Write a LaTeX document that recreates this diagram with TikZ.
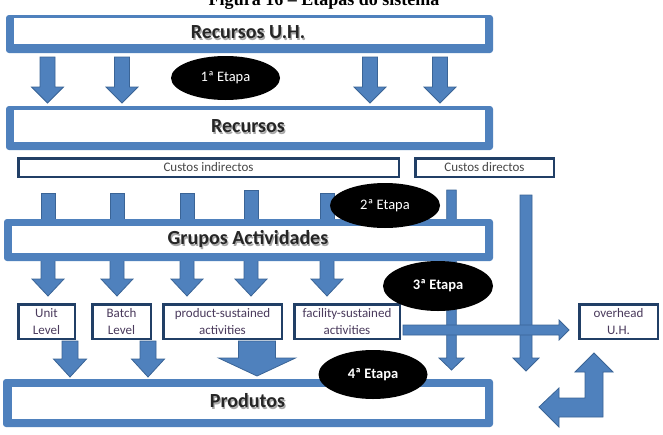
\documentclass[tikz,border=0pt]{standalone}
\usepackage{fontspec}
\setmainfont{Carlito}
\newfontfamily\titlefont{Liberation Serif}
\usetikzlibrary{shapes.geometric}
\definecolor{blk}{HTML}{4F81BD}
\definecolor{blkline}{HTML}{3A6496}
\definecolor{navy}{HTML}{213F66}
\definecolor{lbl}{HTML}{4A3A5C}
\definecolor{bigtxt}{HTML}{262626}
\definecolor{shadowtxt}{HTML}{A8A8A8}
% down block arrow: x, ytop, ytip, half shaft, half head, head length
\newcommand\dnarrow[6]{\filldraw[blockarrow] (#1-#4,#2) -- (#1+#4,#2) -- (#1+#4,#3-#6) -- (#1+#5,#3-#6) -- (#1,#3) -- (#1-#5,#3-#6) -- (#1-#4,#3-#6) -- cycle;}
% stub: x, ytop, ybottom, half width
\newcommand\stubbar[4]{\filldraw[blockarrow] (#1-#4,#2) rectangle (#1+#4,#3);}
\begin{document}
\begin{tikzpicture}[x=1pt,y=-1pt,
  blockarrow/.style={fill=blk, draw=blkline, line width=0.8pt, line join=miter},
  bigouter/.style={fill=blk, rounded corners=3pt},
  biginner/.style={fill=white},
  bigtext/.style={font=\bfseries\fontsize{20}{24}\selectfont, text=bigtxt, inner sep=0pt},
  bigshadow/.style={font=\bfseries\fontsize{20}{24}\selectfont, text=shadowtxt, inner sep=0pt},
  smallbox/.style={draw=navy, line width=2.5pt, fill=white, inner sep=0pt, align=center,
     font=\fontsize{13}{17}\selectfont, text=lbl},
  costbox/.style={smallbox, text=bigtxt!85},
  etapa/.style={ellipse, fill=black, text=white, inner sep=0pt,
     font=\fontsize{14.5}{16}\selectfont},
  etapabold/.style={etapa, font=\bfseries\fontsize{14.5}{16}\selectfont}
]
\useasboundingbox (0,0) rectangle (663,434);
\clip (0,0) rectangle (663,434);
\fill[white] (0,0) rectangle (663,434);

% title (cut at top, as in the reference)
\node[font=\titlefont\bfseries\fontsize{18}{20}\selectfont, anchor=base, inner sep=0pt] (title) at (324,5) {Figura 16 – Etapas do sistema};

% stubs between Custos and Grupos Actividades
\stubbar{48}{193}{226}{7}
\stubbar{117}{193}{226}{7}
\stubbar{187}{193}{226}{7}
\stubbar{251}{190}{226}{7}
\stubbar{327}{193}{226}{7}
% custos directos arrows
\dnarrow{451.5}{190}{370}{4.8}{12.5}{12}
\dnarrow{526}{195}{371}{6}{13}{13}
% arrows Grupos -> activity boxes
\dnarrow{48}{258}{296}{7}{16}{17}
\dnarrow{117}{258}{296}{7}{16}{17}
\dnarrow{187}{258}{296}{7}{16}{17}
\dnarrow{251}{258}{296}{7}{16}{17}
\dnarrow{327}{258}{296}{7}{16}{17}
% arrows activity boxes -> Produtos
\dnarrow{70}{341}{377}{8}{16.5}{18}
\dnarrow{148}{341}{377}{8}{16.5}{18}
\dnarrow{257}{341}{376}{18.5}{38.5}{18}

% big boxes
\node[bigouter, minimum width=487pt, minimum height=38pt, inner sep=0pt] (ruhbox) at (249.5,34) {};
\fill[biginner] (14,18) rectangle (485,44);
\node[bigshadow] (ruhs) at (249.2,33.6) {Recursos U.H.};
\node[bigtext] (ruh) at (248,32) {Recursos U.H.};

\node[bigouter, minimum width=487pt, minimum height=44pt, inner sep=0pt] (recbox) at (249.5,128) {};
\fill[biginner] (14,110) rectangle (485,142);
\node[bigshadow] (recs) at (249.2,127.6) {Recursos};
\node[bigtext] (rec) at (248,126) {Recursos};

\node[bigouter, minimum width=489pt, minimum height=42pt, inner sep=0pt] (grpbox) at (248.5,240) {};
\fill[biginner] (12,226) rectangle (485,253);
\node[bigshadow] (grps) at (249.2,240.6) {Grupos Actividades};
\node[bigtext] (grp) at (248,239) {Grupos Actividades};

\node[bigouter, minimum width=490pt, minimum height=48pt, inner sep=0pt] (prdbox) at (248,403) {};
\fill[biginner] (12,387) rectangle (485,419);
\node[bigshadow] (prds) at (248.7,402.6) {Produtos};
\node[bigtext] (prd) at (247.5,401) {Produtos};

% cost boxes
\node[costbox, minimum width=380.5pt, minimum height=18.5pt] (ci) at (208.5,167.5) {Custos indirectos};
\node[costbox, minimum width=138.5pt, minimum height=18.5pt] (cd) at (484.5,167.5) {Custos directos};

% activity boxes
\node[smallbox, minimum width=56.5pt, minimum height=34.5pt] (unit) at (46.5,321.5) {Unit\\Level};
\node[smallbox, minimum width=58.5pt, minimum height=34.5pt] (batch) at (121.5,321.5) {Batch\\Level};
\node[smallbox, minimum width=118.5pt, minimum height=34.5pt] (prod) at (222.5,321.5) {product-sustained\\activities};
\node[smallbox, minimum width=105.5pt, minimum height=34.5pt] (fac) at (347,321.5) {facility-sustained\\activities};
\node[smallbox, minimum width=78.5pt, minimum height=34.5pt] (oh) at (618.5,321.5) {overhead\\U.H.};

% horizontal arrow facility -> overhead
\filldraw[blockarrow] (403,325) -- (559,325) -- (559,320) -- (569,330) -- (559,340) -- (559,335) -- (403,335) -- cycle;

% bent arrow (overhead back to Produtos)
\filldraw[blockarrow] (594,353) -- (613,372) -- (603,372) -- (603,417) -- (559,417) -- (559,427)
  -- (539,407) -- (559,388) -- (559,398) -- (585,398) -- (585,372) -- (575,372) -- cycle;

% arrows Recursos U.H. -> Recursos
\dnarrow{47.5}{57}{103}{7.5}{16}{16}
\dnarrow{122}{57}{103}{7.5}{16}{16}
\dnarrow{370}{57}{103}{7.5}{16}{16}
\dnarrow{440}{57}{103}{7.5}{16}{16}

% stage ellipses
\node[etapa, minimum width=109pt, minimum height=44pt] (e1) at (225.5,78) {1ª Etapa};
\node[etapa, minimum width=110pt, minimum height=45pt] (e2) at (385,205.5) {2ª Etapa};
\node[etapabold, minimum width=110pt, minimum height=50pt] (e3) at (438,286) {3ª Etapa};
\node[etapabold, minimum width=109pt, minimum height=49pt] (e4) at (373,374.5) {4ª Etapa};
\end{tikzpicture}
\end{document}
